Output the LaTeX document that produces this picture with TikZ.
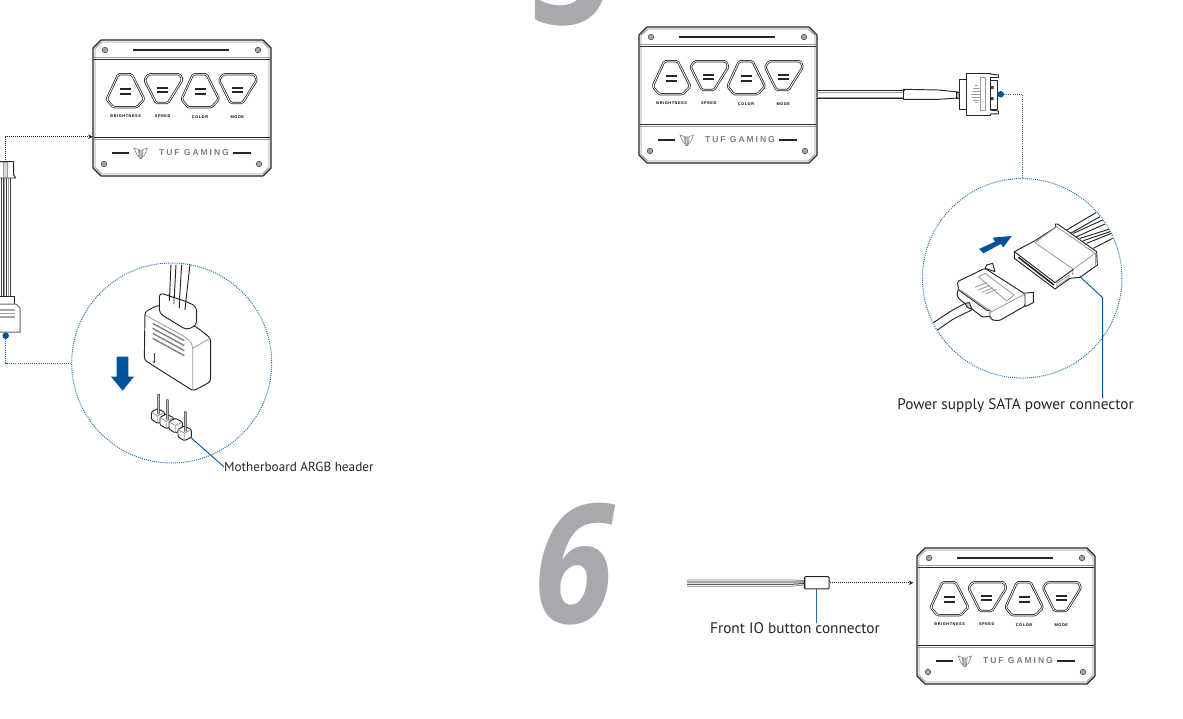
\documentclass[tikz,border=0pt]{standalone}
\usepackage{graphicx}
\usepackage{fontspec}
\setmainfont{PT Sans}
\newfontfamily\panelfont[LetterSpace=14]{Liberation Sans}
\newfontfamily\brandfont[LetterSpace=22]{Liberation Sans}
\newfontfamily\digitfont{Open Sans}
\usetikzlibrary{arrows.meta,calc}
\definecolor{tufblue}{HTML}{00529B}
\definecolor{dotblue}{HTML}{1F6FB5}
\definecolor{digitgray}{HTML}{A7A9AC}
\tikzset{
  outline/.style={draw=black!85, line width=.95pt, line join=round},
  soft/.style={draw=black!40, line width=.8pt},
  panelbtn/.style={draw=black!85, double=white, double distance=.8pt, line width=.75pt, rounded corners=1.5pt, line join=round},
  screw/.style={circle, draw=black!70, fill=black!35, line width=.6pt, minimum size=5.5pt, inner sep=0pt},
  tiny/.style={inner sep=0pt, font=\panelfont\bfseries\fontsize{3.9}{4}\selectfont, text=black},
  blackdots/.style={draw=black!85, line width=.95pt, dash pattern=on 1pt off 1pt},
  bluedots/.style={draw=dotblue, line width=1pt, dash pattern=on 1pt off 1.1pt},
  leader/.style={draw=tufblue, line width=.9pt},
  bluedot/.style={circle, fill=tufblue, minimum size=6.5pt, inner sep=0pt},
  callout/.style={inner sep=0pt, font=\fontsize{15.3}{16}\selectfont, text=black!85},
  bigdigit/.style={inner sep=0pt, text=digitgray, font=\digitfont\bfseries\itshape\fontsize{166}{166}\selectfont},
  tufpanel/.pic={
    \draw[outline, fill=white, line width=1.1pt] (8,0) -- (170,0) -- (178,8) -- (178,128) -- (170,136) -- (8,136) -- (0,128) -- (0,8) -- cycle;
    \draw[soft] (8.5,2) -- (169.5,2) -- (176,8.5) -- (176,127.5) -- (169.5,134) -- (8.5,134) -- (2,127.5) -- (2,8.5) -- cycle;
    \draw[outline] (1,19.5) -- (177,19.5);
    \draw[soft] (1,17.5) -- (177,17.5);
    \draw[outline] (1,97) -- (177,97);
    \draw[soft] (1,99) -- (177,99);
    \draw[draw=black!85, line width=1.7pt] (40,10) -- (136,10);
    \node[screw] (-sa) at (12,10) {};
    \node[screw] (-sb) at (165,10) {};
    \node[screw] (-sc) at (11,124) {};
    \node[screw] (-sd) at (166,124) {};
    \draw[panelbtn] (25.3,34.3) -- (38.7,34.3) -- (51.3,59.3) -- (43.7,67.3) -- (20.3,67.3) -- (13.7,59.3) -- cycle;
    \draw[panelbtn] (55.5,34.3) -- (87,34.3) -- (89.3,40) -- (75,63) -- (63,63) -- (51.5,40) -- cycle;
    \draw[panelbtn] (100,34.3) -- (113.5,34.3) -- (126,59.3) -- (118.5,67.3) -- (95,67.3) -- (88.5,59.3) -- cycle;
    \draw[panelbtn] (130,34.3) -- (161.5,34.3) -- (163.8,40) -- (149.5,63) -- (137.5,63) -- (126,40) -- cycle;
    \foreach \cx/\cy in {32.7/49.2, 32.7/53.9, 69.7/47.5, 69.7/52.2, 107/49.2, 107/53.9, 144.3/47.5, 144.3/52.2} {
      \fill[black!85] (\cx-5.5,\cy-1) rectangle (\cx+5.5,\cy+1);
    }
    \node[tiny] (-bright) at (32.7,76.2) {BRIGHTNESS};
    \node[tiny] (-speed) at (69.7,76.2) {SPEED};
    \node[tiny] (-color) at (107,76.7) {COLOR};
    \node[tiny] (-mode) at (144.3,76.7) {MODE};
    \draw[draw=black!85, line width=1.4pt] (19,113) -- (36,113);
    \draw[draw=black!85, line width=1.4pt] (140,113) -- (158,113);
    \draw[black!50, line width=.6pt, fill=white] (41,108) -- (45.5,109.5) -- (46,117) -- (44,115) -- cycle;
    \draw[black!50, line width=.6pt, fill=white] (54.5,108) -- (50,109.5) -- (49.5,117) -- (51.5,115) -- cycle;
    \draw[black!50, line width=.6pt, fill=black!20] (46.5,110) -- (49,110) -- (48.7,118.5) -- (46.8,118.5) -- cycle;
    \node[inner sep=0pt, text=black!50, font=\brandfont\bfseries\fontsize{8.6}{9}\selectfont] (-brand) at (101,113) {TUF GAMING};
    \coordinate (-west) at (0,96.7);
    \coordinate (-eastcable) at (178,63.7);
  }
}
\begin{document}
\begin{tikzpicture}[x=1pt, y=-1pt]
  \useasboundingbox (0,0) rectangle (1183,718);
  \clip (0,0) rectangle (1183,718);

  \node[bigdigit, anchor=base west] (five) at (533.5,24.5) {\scalebox{.88}[1]{5}};
  \node[bigdigit, anchor=base west] (six) at (533.5,623.5) {\scalebox{.88}[1]{6}};

  \pic (panela) at (93,40) {tufpanel};
  \pic (panelb) at (639,27) {tufpanel};
  \pic (panelc) at (917,548) {tufpanel};

  % left cable
  \foreach \wx in {1,3.3,6.7,10} {
    \draw[draw=black!75, line width=.9pt] (\wx,178) -- (\wx,297);
  }
  \draw[soft] (4.8,178) -- (4.8,297);
  \draw[soft] (8.4,178) -- (8.4,297);
  \draw[outline, fill=white] (-1,161.7) -- (13.7,161.7) -- (13.7,175) -- (15.7,178) -- (-1,178);
  \draw[soft, fill=black!15] (3.5,162) rectangle (7.5,177);
  \coordinate (argbtop) at (5.7,161.7);
  \draw[blackdots, -{Stealth[length=5pt,width=4.5pt]}] (argbtop) -- (argbtop |- panela-west) -- (panela-west);
  \draw[outline, fill=white] (-1,296.7) -- (14.7,296.7) -- (14.7,304) -- (-1,304);
  \draw[draw=black!60, line width=1pt, fill=white] (-1,304) -- (16,304) -- (20,308) -- (20,332) -- (-1,332);
  \foreach \vy in {310,313.5,317} {
    \draw[draw=black!35, line width=1.6pt] (0,\vy) -- (15,\vy);
  }
  \node[bluedot] (argbdot) at (5.7,335.7) {};
  \node[circle, bluedots, minimum size=200pt, inner sep=0pt] (argbzoom) at (171.7,363) {};
  \draw[bluedots] (argbdot) -- (argbdot |- argbzoom) -- (argbzoom.west);

  % ARGB plug and header
  \begin{scope}[shift={(70,260)}, x=.3333pt, y=-.3333pt]
    \foreach \wa/\wb in {303/298, 318/312, 335/328, 360/347} {
      \draw[outline] (\wa,14) -- (\wb,128);
    }
    \draw[outline, fill=white, rounded corners=3pt] (265,135) -- (225,155) -- (223,300) -- (370,393) -- (422,365) -- (422,235) -- (385,205) -- cycle;
    \draw[soft] (368,390) -- (368,265) .. controls (368,245) and (350,235) .. (335,225);
    \draw[soft] (368,265) -- (420,235);
    \draw[soft] (225,165) -- (335,225);
    \draw[outline, fill=white, rounded corners=4pt] (268,98) -- (268,160) -- (350,210) -- (380,195) -- (380,140) -- (350,125) -- cycle;
    \draw[outline, line cap=round] (298,100) -- (298,122) (312,108) -- (312,132) (328,118) -- (328,144) (347,128) -- (345,150);
    \foreach \va in {190,205,220,235} {
      \draw[draw=black!50, line width=1.4pt] (248,\va) -- (343,\va+52);
    }
    \draw[draw=black!75, line width=.5pt, -{Stealth[length=2.5pt,width=3pt]}] (252,278) -- (252,310);
    \path[fill=tufblue] (140,290) -- (175,290) -- (175,350) -- (192,350) -- (158,392) -- (123,350) -- (140,350) -- cycle;
    \foreach \cx/\cy/\pinh in {263/468/65, 289/484/65, 316/497/0, 343/520/65} {
      \draw[outline, fill=white, rounded corners=1pt] (\cx-19,\cy-12) -- (\cx,\cy-22) -- (\cx+21,\cy-11) -- (\cx+21,\cy+12) -- (\cx,\cy+22) -- (\cx-19,\cy+10) -- cycle;
      \draw[soft] (\cx-19,\cy-12) -- (\cx,\cy) -- (\cx+21,\cy-11) (\cx,\cy) -- (\cx,\cy+22);
      \ifnum\pinh>0
        \draw[draw=black!80, line width=.6pt, fill=black!25, rounded corners=.5pt] (\cx,\cy-5) -- (\cx,\cy-\pinh) -- (\cx+6,\cy-\pinh) -- (\cx+6,\cy-5);
      \fi
    }
    \coordinate (headerpin) at (362,532);
  \end{scope}
  \node[callout, anchor=west, font=\fontsize{13.2}{15}\selectfont] (headerlabel) at (224,467) {Motherboard ARGB header};
  \draw[leader] (headerpin) -- (headerlabel.west);

  % SATA cable
  \draw[outline] (panelb-eastcable) -- ++(87.5,0);
  \draw[outline] (816,98.3) -- (903.5,98.3);
  \draw[soft] (816,92.3) -- (903.5,92.3) (816,97) -- (903.5,97);
  \draw[outline] (903.5,89.3) -- (938.3,90) -- (958,92) -- (958,98) -- (938.3,99.3) -- (903.5,99.3) -- cycle;
  \draw[outline, fill=white] (959,79.3) rectangle (966,109.3);
  \draw[outline] (956,92) rectangle (959.5,98);
  \draw[outline, fill=white] (966,73.3) rectangle (990,115);
  \draw[outline, fill=white] (990,80) rectangle (997.3,109.3);
  \draw[outline, fill=white] (990,74) -- (998.5,75) -- (998.5,77.5) -- (990,77.5);
  \draw[outline, fill=white] (990,110) -- (998.5,111) -- (998.5,113.8) -- (990,114);
  \draw[soft] (980,77.3) rectangle (985.7,110.7);
  \foreach \gy/\gl in {85/1.5, 88/3, 91/4.5, 94/5, 97/4.5, 100/3, 102/1.5} {
    \draw[draw=black!40, line width=.6pt] (976-\gl,\gy) -- (976+\gl,\gy);
  }
  \fill[black!75] (991,86) rectangle (993.5,89) (991,97) rectangle (993.5,100);
  \node[bluedot] (satadot) at (1000.7,94.3) {};
  \node[circle, bluedots, minimum size=199.5pt, inner sep=0pt] (satazoom) at (1022.2,278.3) {};
  \draw[bluedots] (satadot) -- (satadot -| satazoom) -- (satazoom.north);

  % SATA plugs
  \begin{scope}[shift={(910,170)}, x=.3333pt, y=-.3333pt]
    \foreach \wa/\wb/\wc/\wd in {470/180/558/128, 490/190/578/150, 510/205/596/178, 530/220/604/190} {
      \draw[outline] (\wa,\wb) -- (\wc,\wd);
    }
    \draw[outline] (478,192) -- (570,140) (500,200) -- (585,162) (520,212) -- (600,185) (550,235) -- (608,205);
    \draw[outline, fill=white] (313,245) -- (375,212) -- (437,172) -- (437,162) -- (443,162) -- (560,245) -- (562,285) -- (510,322) -- (480,325) -- (435,357) -- (313,265) -- cycle;
    \draw[soft] (437,168) -- (555,250) -- (490,298) -- (375,218) -- (437,172);
    \draw[soft] (555,250) -- (555,285);
    \draw[soft] (490,298) -- (487,315);
    \draw[outline] (313,245) -- (435,338) -- (490,298);
    \draw[draw=black!85, line width=1.6pt] (325,262) -- (432,345);
    \draw[soft] (440,350) -- (478,322) -- (478,315) -- (440,340) -- cycle;
    \coordinate (satafemale) at (510,320);
    \coordinate (sataelbow) at (578,383);
    \path[fill=tufblue] (207,237) -- (255,215) -- (248,203) -- (305,198) -- (280,232) -- (272,222) -- (220,250) -- cycle;
    \draw[outline] (70,458) -- (120,425) -- (165,400);
    \draw[outline] (82,480) -- (130,447) -- (185,420);
    \draw[outline, fill=white] (225,295) -- (230,285) -- (248,280) -- (255,305) -- cycle;
    \draw[outline, fill=white] (340,370) -- (370,367) -- (370,398) -- (345,410) -- cycle;
    \draw[outline, fill=white, rounded corners=1.5pt] (142,335) -- (225,295) -- (345,372) -- (345,408) -- (268,452) -- (245,450) -- (240,438) -- (218,442) -- (145,385) -- (140,370) -- (146,360) -- cycle;
    \draw[outline] (146,360) -- (232,422) -- (240,420) -- (240,440);
    \draw[soft] (145,356) -- (245,425) -- (345,372);
    \draw[soft] (205,320) -- (225,310) -- (312,375) -- (290,393) -- cycle;
    \foreach \gx/\gy in {195/352, 205/360, 215/367, 225/372} {
      \draw[soft] (\gx,\gy) -- (\gx+35,\gy-14);
    }
    \draw[outline, fill=black!20] (165,400) -- (178,398) -- (186,418) -- (172,412) -- cycle;
  \end{scope}
  \node[callout] (satalabel) at (1015.5,405.5) {Power supply SATA power connector};
  \draw[leader] (satafemale) -- (sataelbow) -- (sataelbow |- satalabel.north);

  % front panel wires
  \node[draw=black!85, fill=white, line width=.95pt, rounded corners=1pt, minimum width=24.7pt, minimum height=12.3pt, inner sep=0pt] (frontio) at (816.7,582.8) {};
  \coordinate (wiretail) at (687,582.8);
  \foreach \wy/\wz/\wk in {-2.9/-2.2/50, -.9/-.7/100, 1.4/.8/100, 3.4/2.2/50} {
    \draw[draw=black!\wk, line width=.75pt] ($(wiretail)+(0,\wy)$) -- ++(105,0) -- ($(frontio.west)+(0,\wz)$);
  }
  \draw[draw=black!35, line width=.8pt] ($(frontio.west)+(1.2,-5.5)$) -- ++(0,11);
  \draw[blackdots, -{Stealth[length=5pt,width=4.5pt]}, shorten >=3.5pt] (frontio.east) -- (frontio -| panelc-west);
  \node[callout] (frontlabel) at (795,628.5) {Front IO button connector};
  \draw[draw=dotblue, line width=1pt] (frontio.south) -- (frontio.south |- frontlabel.north);
\end{tikzpicture}
\end{document}
